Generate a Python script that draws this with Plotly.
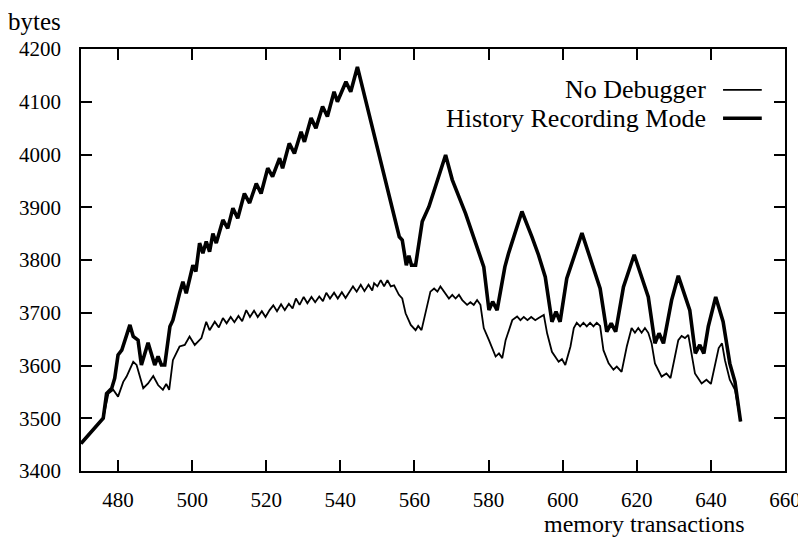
import plotly.graph_objects as go

# History Recording Mode (thick line)
hist_x = [470.0, 476.0, 476.9, 478.3, 479.1, 480.0, 481.0, 481.8, 483.2, 484.1,
          485.4, 486.3, 488.1, 489.9, 490.8, 491.7, 492.6, 494.0, 494.8, 496.6,
          497.5, 498.4, 500.2, 501.0, 502.0, 502.9, 503.8, 504.7, 505.6, 506.5,
          508.3, 509.6, 511.0, 512.3, 514.1, 515.5, 517.3, 518.6, 520.4, 521.7,
          523.6, 524.4, 526.2, 527.6, 529.4, 530.3, 532.1, 533.4, 535.2, 536.5,
          538.3, 539.2, 541.5, 542.8, 544.6, 555.9, 556.7, 557.8, 558.5, 559.2,
          560.3, 562.1, 563.9, 568.4, 570.2, 573.8, 577.4, 578.7, 580.1, 581.1,
          582.3, 584.4, 585.4, 589.0, 591.7, 593.5, 595.3, 597.1, 598.2, 599.3,
          601.1, 605.2, 610.1, 611.9, 613.1, 614.3, 616.4, 619.3, 623.1, 624.9,
          626.0, 627.2, 629.4, 631.2, 634.3, 635.8, 637.0, 638.1, 639.3, 641.3,
          643.3, 645.1, 646.5, 648.0]
hist_y = [3452, 3500, 3547, 3557, 3576, 3620, 3629, 3648, 3677, 3655,
          3648, 3601, 3643, 3601, 3617, 3601, 3601, 3674, 3686, 3737,
          3759, 3737, 3790, 3778, 3832, 3813, 3835, 3816, 3850, 3832,
          3876, 3860, 3898, 3879, 3926, 3908, 3945, 3926, 3974, 3958,
          3993, 3974, 4021, 4002, 4043, 4024, 4069, 4050, 4091, 4072,
          4119, 4100, 4138, 4119, 4166, 3844, 3838, 3790, 3808, 3790,
          3790, 3873, 3901, 3999, 3952, 3888, 3813, 3787, 3705, 3721,
          3705, 3787, 3813, 3892, 3844, 3809, 3768, 3683, 3702, 3683,
          3765, 3851, 3746, 3664, 3680, 3664, 3749, 3810, 3730, 3642,
          3661, 3642, 3724, 3770, 3705, 3623, 3639, 3623, 3674, 3730,
          3683, 3604, 3569, 3494]

# No Debugger (thin line)
nodbg_x = [470.0, 476.0, 477.4, 478.7, 480.0, 481.4, 482.3, 484.1, 485.0, 486.8,
           488.1, 489.5, 490.8, 492.1, 493.0, 493.8, 494.8, 496.6, 498.0, 499.3,
           500.7, 502.5, 503.8, 504.7, 506.1, 507.2, 508.3, 509.3, 510.4, 511.4,
           512.5, 513.5, 514.6, 515.6, 516.7, 517.7, 518.8, 519.8, 520.9, 521.9,
           522.9, 524.0, 525.0, 526.1, 527.1, 528.0, 529.0, 530.1, 531.1, 532.2,
           533.2, 534.3, 535.3, 536.2, 537.2, 538.3, 539.3, 540.4, 541.4, 542.5,
           543.4, 544.4, 545.5, 546.5, 547.6, 548.6, 549.1, 550.0, 550.9, 551.8,
           552.7, 553.6, 554.5, 555.8, 556.7, 557.6, 559.0, 560.3, 561.0, 561.9,
           563.0, 564.3, 565.3, 566.2, 567.0, 568.4, 569.3, 570.2, 571.1, 572.0,
           572.9, 574.2, 575.1, 576.0, 576.9, 577.8, 578.7, 580.1, 581.9, 582.8,
           583.7, 584.6, 586.4, 587.7, 588.6, 589.5, 590.5, 591.5, 592.6, 593.5,
           594.9, 595.8, 597.1, 598.9, 599.8, 600.7, 602.1, 603.0, 603.8, 604.7,
           605.6, 606.5, 607.4, 608.3, 609.2, 610.1, 611.0, 612.4, 613.7, 614.6,
           615.9, 617.3, 618.6, 619.5, 620.4, 621.3, 622.2, 623.1, 624.0, 624.9,
           626.7, 628.0, 629.1, 630.3, 631.2, 632.1, 633.0, 633.9, 634.8, 635.7,
           637.5, 638.8, 640.0, 641.1, 642.1, 643.0, 643.8, 645.1, 646.5, 648.0]
nodbg_y = [3452, 3500, 3547, 3554, 3541, 3569, 3579, 3607, 3601, 3557,
           3566, 3580, 3563, 3554, 3565, 3554, 3610, 3636, 3639, 3655,
           3639, 3652, 3683, 3667, 3683, 3672, 3690, 3680, 3692, 3682,
           3694, 3684, 3705, 3692, 3704, 3692, 3703, 3692, 3705, 3714,
           3703, 3716, 3705, 3717, 3708, 3727, 3715, 3730, 3718, 3730,
           3720, 3731, 3722, 3738, 3727, 3738, 3727, 3739, 3728, 3740,
           3750, 3740, 3753, 3741, 3753, 3742, 3756, 3750, 3762, 3750,
           3762, 3750, 3752, 3734, 3727, 3699, 3677, 3667, 3675, 3667,
           3699, 3740, 3746, 3740, 3750, 3737, 3727, 3734, 3727, 3734,
           3724, 3715, 3720, 3715, 3724, 3715, 3671, 3648, 3617, 3623,
           3614, 3648, 3686, 3693, 3686, 3692, 3686, 3692, 3686, 3690,
           3696, 3661, 3626, 3607, 3612, 3601, 3636, 3671, 3681, 3674,
           3681, 3674, 3681, 3674, 3681, 3675, 3629, 3604, 3592, 3598,
           3588, 3636, 3671, 3662, 3671, 3662, 3671, 3662, 3642, 3604,
           3579, 3585, 3576, 3617, 3648, 3656, 3652, 3658, 3623, 3585,
           3566, 3573, 3565, 3598, 3633, 3642, 3610, 3573, 3554, 3494]

x_ticks = [480, 500, 520, 540, 560, 580, 600, 620, 640, 660]
y_ticks = [3400, 3500, 3600, 3700, 3800, 3900, 4000, 4100, 4200]

serif = "Liberation Serif"

fig = go.Figure()
fig.add_trace(go.Scatter(x=nodbg_x, y=nodbg_y, mode="lines", name="No Debugger",
                         line=dict(color="black", width=1.8)))
fig.add_trace(go.Scatter(x=hist_x, y=hist_y, mode="lines", name="History Recording Mode",
                         line=dict(color="black", width=3.6)))

axis_common = dict(showline=True, linecolor="black", linewidth=1.6, mirror="ticks",
                   ticks="inside", ticklen=11, tickwidth=1.5, tickcolor="black",
                   showgrid=False, zeroline=False, automargin=False,
                   tickfont=dict(family=serif, size=21, color="black"))

fig.update_xaxes(range=[470, 660], tickvals=x_ticks, ticklabelstandoff=9, **axis_common)
fig.update_yaxes(range=[3400, 4200], tickvals=y_ticks, ticklabelstandoff=14, **axis_common)

# legend: text on the left, line sample on the right
legend_rows = [("No Debugger", 0.903, 1.8), ("History Recording Mode", 0.836, 3.6)]
for label, ypos, w in legend_rows:
    fig.add_annotation(x=0.8906, y=ypos, xref="paper", yref="paper", text=label,
                       showarrow=False, xanchor="right", yanchor="middle",
                       font=dict(family=serif, size=26, color="black"))
    fig.add_shape(type="line", xref="paper", yref="paper", x0=0.912, x1=0.967,
                  y0=ypos, y1=ypos, line=dict(color="black", width=w))

fig.add_annotation(x=-0.0256, y=1.066, xref="paper", yref="paper", text="bytes",
                   showarrow=False, xanchor="right", yanchor="middle",
                   font=dict(family=serif, size=25, color="black"))
fig.add_annotation(x=0.946, y=-0.1256, xref="paper", yref="paper", text="memory transactions",
                   showarrow=False, xanchor="right", yanchor="middle",
                   font=dict(family=serif, size=24, color="black"))

# the page body adds an 8px offset, so the figure is sized to fit inside the window
fig.update_layout(width=798, height=529, showlegend=False,
                  plot_bgcolor="white", paper_bgcolor="white",
                  margin=dict(l=73, r=21, t=41, b=66))

fig.write_html("out.html")
